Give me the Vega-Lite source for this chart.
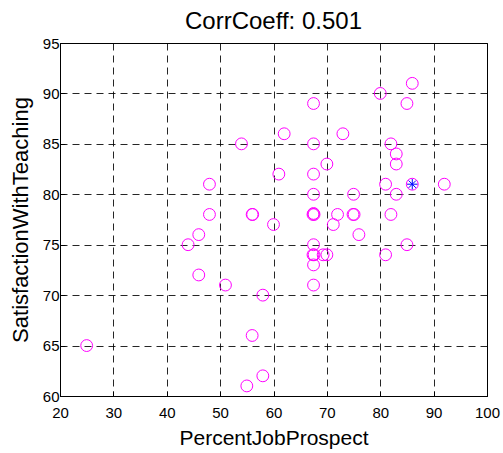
{
  "$schema": "https://vega.github.io/schema/vega-lite/v6.json",
  "autosize": {"type": "none"},
  "padding": {"left": 60, "top": 43, "right": 16, "bottom": 57},
  "width": 427,
  "height": 353,
  "background": "white",
  "title": {"text": "CorrCoeff: 0.501", "font": "Liberation Sans", "fontSize": 24, "fontWeight": "normal", "color": "black", "offset": 2, "anchor": "middle"},
  "config": {
    "view": {"stroke": "black", "strokeWidth": 1},
    "axis": {"labelFont": "Liberation Sans", "titleFont": "Liberation Sans", "labelFontSize": 15, "titleFontWeight": "normal", "labelColor": "black", "titleColor": "black", "domainColor": "black", "tickColor": "black", "gridColor": "black", "gridDash": [7, 5], "gridOpacity": 0.85, "gridWidth": 1}
  },
  "data": {"values": [
    {"x": 25, "y": 65, "g": "c"},
    {"x": 44, "y": 75, "g": "c"},
    {"x": 46, "y": 76, "g": "c"},
    {"x": 46, "y": 72, "g": "c"},
    {"x": 48, "y": 81, "g": "c"},
    {"x": 48, "y": 78, "g": "c"},
    {"x": 51, "y": 71, "g": "c"},
    {"x": 54, "y": 85, "g": "c"},
    {"x": 55, "y": 61, "g": "c"},
    {"x": 56, "y": 78, "g": "c"},
    {"x": 56.1, "y": 78, "g": "c"},
    {"x": 56, "y": 66, "g": "c"},
    {"x": 58, "y": 70, "g": "c"},
    {"x": 58, "y": 62, "g": "c"},
    {"x": 60, "y": 77, "g": "c"},
    {"x": 61, "y": 82, "g": "c"},
    {"x": 62, "y": 86, "g": "c"},
    {"x": 67.5, "y": 89, "g": "c"},
    {"x": 67.5, "y": 85, "g": "c"},
    {"x": 67.5, "y": 82, "g": "c"},
    {"x": 67.5, "y": 80, "g": "c"},
    {"x": 67.4, "y": 78, "g": "c"},
    {"x": 67.6, "y": 78, "g": "c"},
    {"x": 67.5, "y": 78.1, "g": "c"},
    {"x": 67.5, "y": 75, "g": "c"},
    {"x": 67.4, "y": 74, "g": "c"},
    {"x": 67.6, "y": 74, "g": "c"},
    {"x": 67.5, "y": 73, "g": "c"},
    {"x": 67.5, "y": 71, "g": "c"},
    {"x": 69.3, "y": 74, "g": "c"},
    {"x": 70, "y": 74, "g": "c"},
    {"x": 70, "y": 83, "g": "c"},
    {"x": 71.2, "y": 77, "g": "c"},
    {"x": 72, "y": 78, "g": "c"},
    {"x": 73, "y": 86, "g": "c"},
    {"x": 75, "y": 80, "g": "c"},
    {"x": 74.9, "y": 78, "g": "c"},
    {"x": 75.1, "y": 78, "g": "c"},
    {"x": 76, "y": 76, "g": "c"},
    {"x": 80, "y": 90, "g": "c"},
    {"x": 81, "y": 81, "g": "c"},
    {"x": 81, "y": 74, "g": "c"},
    {"x": 82, "y": 85, "g": "c"},
    {"x": 82, "y": 78, "g": "c"},
    {"x": 83, "y": 84, "g": "c"},
    {"x": 83, "y": 83, "g": "c"},
    {"x": 83, "y": 80, "g": "c"},
    {"x": 85, "y": 89, "g": "c"},
    {"x": 85, "y": 75, "g": "c"},
    {"x": 86, "y": 91, "g": "c"},
    {"x": 86, "y": 81, "g": "c"},
    {"x": 92, "y": 81, "g": "c"},
    {"x": 86, "y": 81, "g": "s"}
  ]},
  "encoding": {
    "x": {"field": "x", "type": "quantitative", "scale": {"domain": [20, 100], "nice": false, "zero": false},
      "axis": {"title": "PercentJobProspect", "titleFontSize": 21, "values": [20, 30, 40, 50, 60, 70, 80, 90, 100], "tickSize": -5, "labelPadding": 14, "titlePadding": 7, "labelFlush": false}},
    "y": {"field": "y", "type": "quantitative", "scale": {"domain": [60, 95], "nice": false, "zero": false},
      "axis": {"title": "SatisfactionWithTeaching", "titleFontSize": 22, "values": [60, 65, 70, 75, 80, 85, 90, 95], "tickSize": -5, "labelPadding": 6, "titlePadding": 10, "labelFlush": false}}
  },
  "layer": [
    {
      "transform": [{"filter": "datum.g == 'c'"}],
      "mark": {"type": "point", "shape": "circle", "filled": false, "stroke": "#ff00ff", "strokeWidth": 1, "size": 140, "opacity": 1}
    },
    {
      "transform": [{"filter": "datum.g == 's'"}],
      "mark": {"type": "point", "shape": "M0,-1L0,1M-1,0L1,0M-0.7,-0.7L0.7,0.7M-0.7,0.7L0.7,-0.7", "filled": false, "stroke": "#0000ff", "strokeWidth": 1, "size": 110, "opacity": 1}
    }
  ]
}
